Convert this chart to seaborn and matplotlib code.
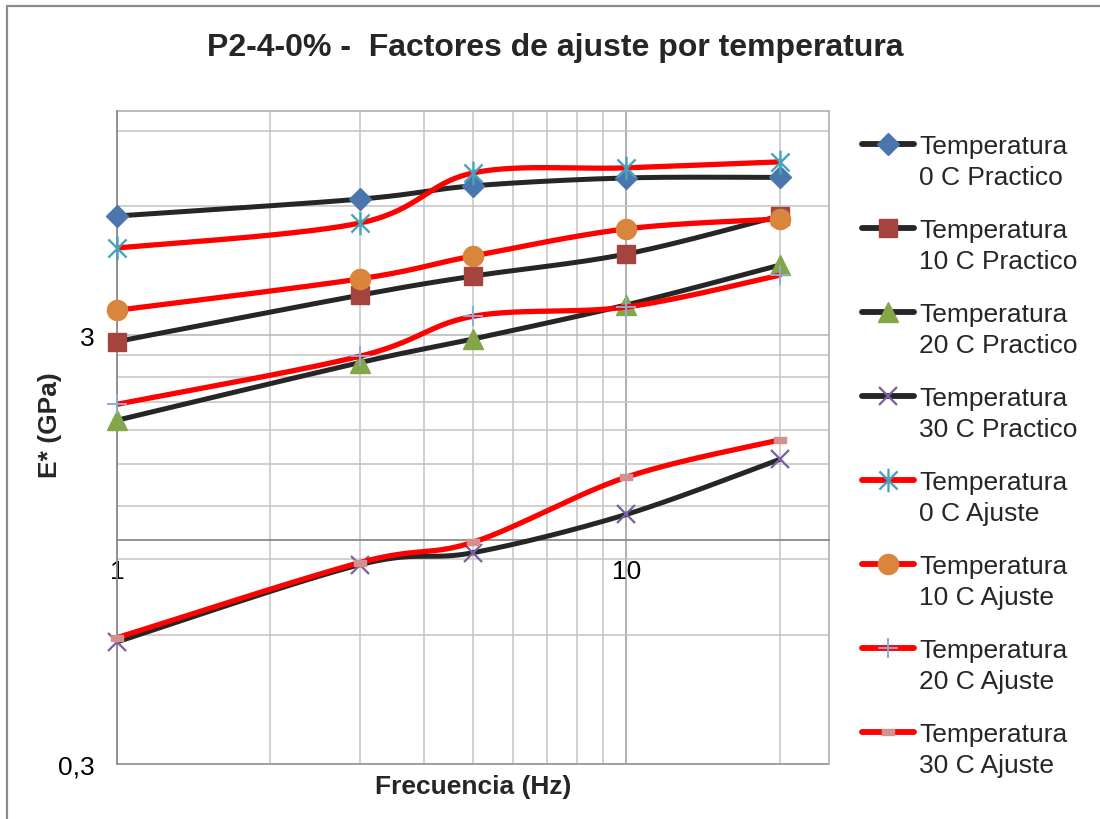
import numpy as np
import pandas as pd
import matplotlib
matplotlib.use("Agg")
import matplotlib.pyplot as plt
import seaborn as sns
from matplotlib.lines import Line2D
from matplotlib.path import Path
from matplotlib.ticker import FixedLocator, FixedFormatter, NullFormatter

# Data (frequency in Hz, E* in GPa)
freq = [1, 3, 5, 10, 20]
practico_0 = [5.69, 6.23, 6.69, 6.98, 7.00]
practico_10 = [2.90, 3.72, 4.12, 4.64, 5.69]
practico_20 = [1.90, 2.59, 2.94, 3.53, 4.37]
practico_30 = [0.578, 0.875, 0.933, 1.146, 1.54]
ajuste_0 = [4.79, 5.48, 7.17, 7.37, 7.61]
ajuste_10 = [3.43, 4.06, 4.59, 5.31, 5.60]
ajuste_20 = [2.07, 2.68, 3.32, 3.49, 4.14]
ajuste_30 = [0.591, 0.885, 0.987, 1.40, 1.71]

labels = [
    ("Temperatura", "0 C Practico"), ("Temperatura", "10 C Practico"),
    ("Temperatura", "20 C Practico"), ("Temperatura", "30 C Practico"),
    ("Temperatura", "0 C Ajuste"), ("Temperatura", "10 C Ajuste"),
    ("Temperatura", "20 C Ajuste"), ("Temperatura", "30 C Ajuste"),
]
y_major = [0.3, 3]
y_major_labels = ["0,3", "3"]
y_minor = [0.6, 0.9, 1.2, 1.5, 1.8, 2.1, 2.4, 2.7, 6, 9]
x_major = [1, 10]
x_major_labels = ["1", "10"]
x_minor = [2, 3, 4, 5, 6, 7, 8, 9, 20]

sns.set_theme(style="white")
plt.rcParams["font.family"] = ["Liberation Sans", "DejaVu Sans"]

# custom markers
asterisk = Path([(-1, -1), (1, 1), (-1, 1), (1, -1), (0, -1.3), (0, 1.3)],
                [Path.MOVETO, Path.LINETO, Path.MOVETO, Path.LINETO, Path.MOVETO, Path.LINETO])
dash_rect = Path([(-1, -0.5), (1, -0.5), (1, 0.5), (-1, 0.5), (-1, -0.5)],
                 [Path.MOVETO, Path.LINETO, Path.LINETO, Path.LINETO, Path.CLOSEPOLY])

DARK = "#262626"
RED = "#ff0000"
series = [
    (practico_0, DARK, dict(marker="D", ms=11, mfc="#4a75ad", mec="#4a75ad")),
    (practico_10, DARK, dict(marker="s", ms=13, mfc="#a5443f", mec="#a5443f")),
    (practico_20, DARK, dict(marker="^", ms=15, mfc="#84a548", mec="#84a548")),
    (practico_30, DARK, dict(marker="x", ms=13, mew=1.6, mec="#7a5fa0")),
    (ajuste_0, RED, dict(marker=asterisk, ms=17, mew=1.7, mec="#45a3bd", mfc="none")),
    (ajuste_10, RED, dict(marker="o", ms=14.5, mfc="#d9853b", mec="#d9853b")),
    (ajuste_20, RED, dict(marker="+", ms=15, mew=1.4, mec="#8eaadb")),
    (ajuste_30, RED, dict(marker=dash_rect, ms=8, mfc="#d48f8f", mec="#d48f8f")),
]


def smooth(xs, ys, n=40):
    # Bezier smoothing (Catmull-Rom like) in log-log space, like Excel smoothed lines
    p = np.column_stack([np.log10(xs), np.log10(ys)])
    out = []
    t = np.linspace(0, 1, n)[:, None]
    for i in range(len(p) - 1):
        p0, p1, p2, p3 = p[max(i - 1, 0)], p[i], p[i + 1], p[min(i + 2, len(p) - 1)]
        c1 = p1 + (p2 - p0) / 6
        c2 = p2 - (p3 - p1) / 6
        seg = ((1 - t) ** 3) * p1 + 3 * ((1 - t) ** 2) * t * c1 + 3 * (1 - t) * t ** 2 * c2 + t ** 3 * p2
        out.append(seg if i == 0 else seg[1:])
    out = np.vstack(out)
    return 10 ** out[:, 0], 10 ** out[:, 1]


fig = plt.figure(figsize=(11, 8.2), dpi=100)
ax = fig.add_axes([117 / 1100, 1 - 765 / 820, (829 - 117) / 1100, (765 - 112) / 820])

z = 3
for vals, lc, mk in series:
    sx, sy = smooth(freq, vals)
    df = pd.DataFrame({"f": sx, "e": sy})
    sns.lineplot(data=df, x="f", y="e", ax=ax, color=lc, linewidth=3.6 if lc == DARK else 3.8,
                 sort=False, estimator=None, zorder=z, solid_capstyle="round")
    ax.plot(freq, vals, linestyle="none", zorder=z + 0.5, clip_on=False, **mk)
    z += 1

ax.set_xscale("log")
ax.set_yscale("log")
ax.set_xlim(1, 25)
ax.set_ylim(0.3, 10)
ax.set_xlabel("")
ax.set_ylabel("")

ax.xaxis.set_major_locator(FixedLocator(x_major))
ax.xaxis.set_major_formatter(FixedFormatter(x_major_labels))
ax.xaxis.set_minor_locator(FixedLocator(x_minor))
ax.xaxis.set_minor_formatter(NullFormatter())
ax.yaxis.set_major_locator(FixedLocator(y_major))
ax.yaxis.set_major_formatter(FixedFormatter(y_major_labels))
ax.yaxis.set_minor_locator(FixedLocator(y_minor))
ax.yaxis.set_minor_formatter(NullFormatter())

ax.grid(True, which="major", axis="x", color="#9a9a9a", linewidth=1.1, zorder=0)
ax.grid(True, which="major", axis="y", color="#b5b5b5", linewidth=1.1, zorder=0)
ax.grid(True, which="minor", color="#c4c4c4", linewidth=1.1, zorder=0)
ax.set_axisbelow(True)

ax.tick_params(axis="both", which="both", length=0, labelsize=19, colors="black")
ax.tick_params(axis="y", pad=16)
ax.tick_params(axis="x", pad=14)

for s in ["top", "right"]:
    ax.spines[s].set_visible(False)
ax.spines["left"].set_color("#8a8a8a")
ax.spines["left"].set_linewidth(1.3)
ax.spines["bottom"].set_position(("data", 1))
ax.spines["bottom"].set_color("#8a8a8a")
ax.spines["bottom"].set_linewidth(1.3)

# plot area border
ax.axhline(10, color="#b5b5b5", linewidth=1.3, zorder=1, clip_on=False)
ax.axhline(0.3, color="#9a9a9a", linewidth=1.3, zorder=1, clip_on=False)
ax.axvline(25, color="#b5b5b5", linewidth=1.3, zorder=1, clip_on=False)

# chart area border (left and top)
fig.add_artist(Line2D([7 / 1100, 1], [1 - 7 / 820, 1 - 7 / 820], transform=fig.transFigure,
                      color="#8c8c8c", linewidth=1.6))
fig.add_artist(Line2D([7 / 1100, 7 / 1100], [0, 1 - 7 / 820], transform=fig.transFigure,
                      color="#8c8c8c", linewidth=1.6))

fig.text(555 / 1100, 1 - 48 / 820, "P2-4-0% -  Factores de ajuste por temperatura",
         ha="center", va="center", fontsize=23, fontweight="bold")
fig.text(50 / 1100, 1 - 425 / 820, "E* (GPa)", rotation=90, ha="center", va="center",
         fontsize=19, fontweight="bold")
fig.text(473 / 1100, 1 - 787 / 820, "Frecuencia (Hz)", ha="center", va="center",
         fontsize=19, fontweight="bold")

# legend, drawn by hand so the handle sits on the first text line
for i, ((vals, lc, mk), (l1, l2)) in enumerate(zip(series, labels)):
    y = 1 - (145 + 84 * i) / 820
    h = Line2D([862 / 1100, 888 / 1100, 914 / 1100], [y, y, y], transform=fig.transFigure,
               color=lc, linewidth=4.2, solid_capstyle="round", markevery=[1], **mk)
    fig.add_artist(h)
    fig.text(919 / 1100, 1 - (154 + 84 * i) / 820, l1, ha="left", va="baseline", fontsize=19)
    fig.text(919 / 1100, 1 - (185 + 84 * i) / 820, l2, ha="left", va="baseline", fontsize=19)

fig.savefig("out.png", dpi=100)
